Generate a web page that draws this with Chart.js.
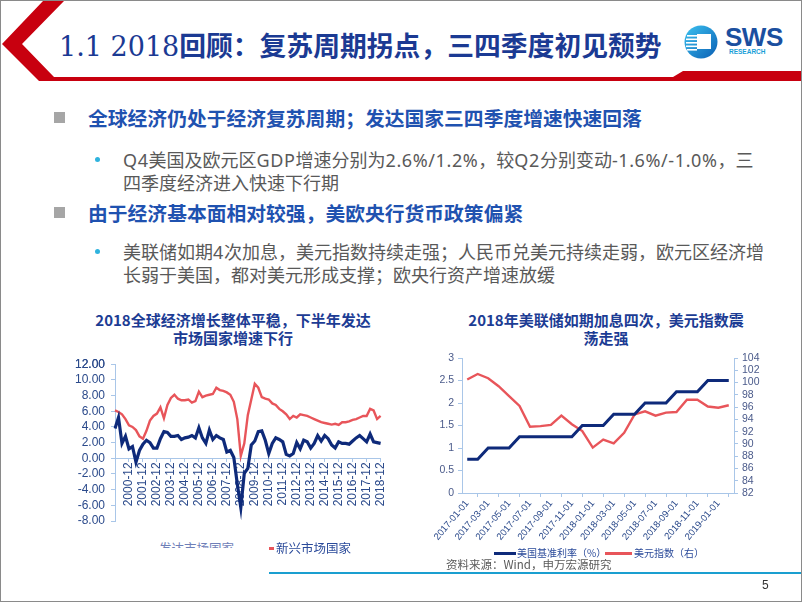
<!DOCTYPE html>
<html>
<head>
<meta charset="utf-8">
<script src="https://cdn.jsdelivr.net/npm/chart.js@4.4.1/dist/chart.umd.min.js"></script>
<style>
  body { margin: 0; width: 802px; height: 602px; overflow: hidden; background: #fff; font-family: "Noto Sans CJK SC", sans-serif; }
  #slide { position: absolute; left: 0; top: 0; width: 800px; height: 600px; border: 1px solid #8a8a8a; overflow: hidden; background: #fff; }
  .abs { position: absolute; white-space: nowrap; }
  .title { left: 58px; top: 26px; font-size: 26.8px; line-height: 36px; font-weight: 700; color: #1b3a93; }
  .title .num { font-family: "DejaVu Serif", serif; font-weight: 400; font-size: 27px; }
  .h1 { left: 87px; font-size: 19.8px; line-height: 26px; font-weight: 700; color: #1f52b0; }
  .sq { left: 53px; width: 11px; height: 11px; background: #a6a6a6; }
  .dot { left: 94px; width: 5px; height: 5px; border-radius: 50%; background: #2fb3de; }
  .sub { left: 122px; font-size: 18px; line-height: 22px; color: #595959; }
  .sub i { font-style: normal; font-family: "Noto Sans", sans-serif; letter-spacing: 0.6px; }
  .ctitle { font-size: 15px; line-height: 18px; font-weight: 700; color: #1c3c94; text-align: center; width: 360px; }
  .leg { font-size: 12.5px; line-height: 14px; color: #2a4a9a; }
  .leg2 { font-size: 10px; line-height: 12px; color: #2a4a9a; }
  canvas { position: absolute; }
</style>
</head>
<body>
<div id="slide">
  <svg class="abs" style="left:0;top:0" width="802" height="90">
    <polygon points="42,0 63,0 21,43 53,76 672,76 682,70 802,70 802,80 38,80 1,43" fill="#c8000f"/>
  </svg>
  <div class="abs title"><span class="num">1.1 2018</span>回顾：复苏周期拐点，三四季度初见颓势</div>

  <svg class="abs" style="left:683px;top:24px" width="36" height="36" viewBox="0 0 36 36">
    <defs>
      <linearGradient id="lg" x1="0" y1="0" x2="1" y2="1">
        <stop offset="0" stop-color="#3cc2f0"/>
        <stop offset="1" stop-color="#0a5fb4"/>
      </linearGradient>
    </defs>
    <circle cx="17" cy="17" r="16.5" fill="url(#lg)"/>
    <rect x="13" y="9" width="14" height="15" fill="#fff"/>
    <rect x="3" y="10" width="10" height="1.6" fill="#fff"/>
    <rect x="2" y="13.5" width="11" height="1.6" fill="#fff"/>
    <rect x="2" y="17" width="11" height="1.6" fill="#fff"/>
    <rect x="2" y="20.5" width="11" height="1.6" fill="#fff"/>
    <rect x="3" y="24" width="10" height="1.6" fill="#fff"/>
  </svg>
  <div class="abs" style="left:724px;top:23px;font-family:'Liberation Sans',sans-serif;font-weight:700;font-size:26px;line-height:26px;color:#1b4f9f;letter-spacing:-0.5px">SWS</div>
  <div class="abs" style="left:728px;top:47px;font-family:'Liberation Sans',sans-serif;font-weight:700;font-size:6.5px;line-height:7px;color:#1a9fd8">RESEARCH</div>

  <div class="abs sq" style="top:111px"></div>
  <div class="abs h1" style="top:104px">全球经济仍处于经济复苏周期；发达国家三四季度增速快速回落</div>
  <div class="abs dot" style="top:156px"></div>
  <div class="abs sub" style="top:147px"><i>Q4</i>美国及欧元区<i>GDP</i>增速分别为<i>2.6%/1.2%</i>，较<i>Q2</i>分别变动<i>-1.6%/-1.0%</i>，三<br>四季度经济进入快速下行期</div>

  <div class="abs sq" style="top:206px"></div>
  <div class="abs h1" style="top:199px">由于经济基本面相对较强，美欧央行货币政策偏紧</div>
  <div class="abs dot" style="top:248px"></div>
  <div class="abs sub" style="top:239px">美联储如期<i>4</i>次加息，美元指数持续走强；人民币兑美元持续走弱，欧元区经济增<br>长弱于美国，都对美元形成支撑；欧央行资产增速放缓</div>

  <div class="abs ctitle" style="left:52px;top:310px">2018全球经济增长整体平稳，下半年发达<br>市场国家增速下行</div>
  <div class="abs ctitle" style="left:425px;top:310px">2018年美联储如期加息四次，美元指数震<br>荡走强</div>

  <canvas id="gdp" width="340" height="190" style="left:55px;top:350px"></canvas>
  <canvas id="fed" width="392" height="200" style="left:400px;top:345px"></canvas>

  <div class="abs leg" style="left:158px;top:540px;height:7px;overflow:hidden;color:#6f80b8">发达市场国家</div>
  <div class="abs" style="left:268px;top:546px;width:5px;height:3px;background:#e8555a"></div>
  <div class="abs leg" style="left:275px;top:540px">新兴市场国家</div>

  <div class="abs" style="left:493px;top:551px;width:22px;height:2.5px;background:#0e2a7a"></div>
  <div class="abs leg2" style="left:516px;top:546px">美国基准利率（%）</div>
  <div class="abs" style="left:604px;top:551px;width:27px;height:2.5px;background:#e8555a"></div>
  <div class="abs leg2" style="left:633px;top:546px">美元指数（右）</div>

  <div class="abs" style="left:445px;top:556px;font-size:11.5px;line-height:14px;color:#595959">资料来源：Wind，申万宏源研究</div>
  <div class="abs" style="left:268px;top:571px;width:534px;height:2px;background:#1a9fd0"></div>
  <div class="abs" style="left:761px;top:577px;font-family:'Liberation Sans',sans-serif;font-size:12px;line-height:14px;color:#333">5</div>
</div>

<script>
// 季度 GDP 增速，1999-12 至 2018-12
const quarters = [];
for (let y = 1999; y <= 2018; y++) {
  for (const m of ["03", "06", "09", "12"]) {
    if (y === 1999 && m !== "12") continue;
    quarters.push(y + "-" + m);
  }
}

const developed = [
  3.8, 5.2, 1.9, 2.8, 1.2, 1.5, -0.5, 1.0, 1.8, 2.3, 2.0, 1.3, 1.3, 2.5, 3.4, 3.3,
  2.8, 2.8, 2.9, 2.4, 2.6, 2.7, 2.9, 2.6, 3.9, 2.6, 1.9, 3.6, 2.4, 2.9, 2.6, 2.4,
  0.8, 1.0, 0.1, -3.3, -6.3, -1.9, -1.3, 1.7, 2.2, 3.4, 3.5, 2.3, 0.6, 1.9, 2.6, 2.4,
  2.1, 0.5, 0.3, 0.6, 2.0, 1.2, 2.3, 2.1, 1.3, 1.9, 2.9, 2.2, 2.9, 2.5, 1.7, 1.3,
  2.1, 1.9, 1.9, 1.8, 2.2, 2.6, 2.9, 2.5, 2.1, 3.1, 2.1, 2.0, 1.9
];
const emerging = [
  6.1, 5.9, 5.6, 5.0, 4.2, 4.0, 3.6, 2.8, 2.5, 3.5, 4.8, 5.4, 5.7, 6.5, 5.1, 6.8,
  7.7, 8.1, 7.6, 7.4, 7.4, 7.5, 7.1, 7.3, 8.5, 7.8, 8.0, 8.1, 8.2, 9.0, 8.7, 8.6,
  8.4, 8.1, 7.2, 5.0, 0.3, 1.9, 5.5, 7.5, 9.5, 9.0, 7.8, 7.6, 7.5, 7.0, 6.8, 6.3,
  6.0, 5.6, 5.0, 5.4, 5.2, 5.6, 5.5, 5.4, 5.2, 5.0, 4.8, 4.6, 4.5, 4.4, 4.3, 4.4,
  4.25, 4.6, 4.6, 4.7, 4.9, 5.0, 5.2, 5.4, 5.4, 6.3, 6.1, 5.0, 5.4
];
const gdpTicks = [-8, -6, -4, -2, 0, 2, 4, 6, 8, 10, 12];

// 月度：美国基准利率与美元指数
const months = [
  "2017-01-01", "2017-02-01", "2017-03-01", "2017-04-01", "2017-05-01", "2017-06-01",
  "2017-07-01", "2017-08-01", "2017-09-01", "2017-10-01", "2017-11-01", "2017-12-01",
  "2018-01-01", "2018-02-01", "2018-03-01", "2018-04-01", "2018-05-01", "2018-06-01",
  "2018-07-01", "2018-08-01", "2018-09-01", "2018-10-01", "2018-11-01", "2018-12-01",
  "2019-01-01", "2019-02-01"
];
const fedRate = [
  0.75, 0.75, 1, 1, 1, 1.25, 1.25, 1.25, 1.25, 1.25, 1.25, 1.5, 1.5,
  1.5, 1.75, 1.75, 1.75, 2, 2, 2, 2.25, 2.25, 2.25, 2.5, 2.5, 2.5
];
const dollarIndex = [
  100.5, 101.4, 100.7, 99.4, 97.8, 96.2, 92.8, 92.9, 93.1, 94.6, 93.2, 92.1, 89.4,
  90.7, 90.1, 91.8, 94.8, 95.3, 94.6, 95.1, 95.2, 97.2, 97.2, 96.1, 95.9, 96.3
];
const rateTicks = [0, 0.5, 1, 1.5, 2, 2.5, 3];
const dollarTicks = [82, 84, 86, 88, 90, 92, 94, 96, 98, 100, 102, 104];

const axisColor = "#a9c6e8";
const tickColor = "#2b4a8b";
const blue = "#0e2a7a";
const red = "#e8555a";

const setTicks = (list) => (s) => { s.ticks = list.map((v) => ({ value: v })); };

// 顶部刻度标签有时没画出来，这里补一次
const topLabel = {
  id: "topLabel",
  afterDraw(chart) {
    const s = chart.scales.y;
    const v = gdpTicks[gdpTicks.length - 1];
    const ctx = chart.ctx;
    ctx.save();
    ctx.font = "12px 'Liberation Sans'";
    ctx.fillStyle = tickColor;
    ctx.textAlign = "right";
    ctx.textBaseline = "middle";
    ctx.fillText(v.toFixed(2), s.right - 10, s.getPixelForValue(v));
    ctx.restore();
  }
};

new Chart(document.getElementById("gdp"), {
  type: "line",
  data: {
    labels: quarters,
    datasets: [
      { label: "发达市场国家", data: developed, borderColor: blue, borderWidth: 3.2, pointRadius: 0, tension: 0 },
      { label: "新兴市场国家", data: emerging, borderColor: red, borderWidth: 2.4, pointRadius: 0, tension: 0 }
    ]
  },
  plugins: [topLabel],
  options: {
    responsive: false,
    animation: false,
    layout: { padding: { top: 10, right: 10, bottom: 20, left: 0 } },
    plugins: { legend: { display: false }, tooltip: { enabled: false } },
    scales: {
      x: {
        position: { y: 0 },
        afterFit: (s) => { s.height = 0; },
        grid: { drawOnChartArea: false, color: axisColor, tickLength: 3 },
        border: { color: axisColor },
        ticks: {
          autoSkip: false, minRotation: 90, maxRotation: 90, padding: 1,
          color: tickColor, font: { family: "Liberation Sans", size: 12 },
          callback: function (v, i) { return quarters[i].endsWith("-12") && i > 0 ? quarters[i] : null; }
        }
      },
      y: {
        min: -8, max: 12,
        afterBuildTicks: setTicks(gdpTicks),
        afterFit: (s) => { s.width = 59; },
        grid: { drawOnChartArea: false, color: axisColor, tickLength: 4 },
        border: { color: axisColor },
        ticks: {
          autoSkip: false, padding: 6, color: tickColor, font: { family: "Liberation Sans", size: 12 },
          callback: (v) => v.toFixed(2)
        }
      }
    }
  }
});

new Chart(document.getElementById("fed"), {
  type: "line",
  data: {
    labels: months,
    datasets: [
      { label: "美国基准利率（%）", data: fedRate, yAxisID: "y", borderColor: blue, borderWidth: 3, pointRadius: 0, tension: 0 },
      { label: "美元指数（右）", data: dollarIndex, yAxisID: "y1", borderColor: red, borderWidth: 2.4, pointRadius: 0, tension: 0 }
    ]
  },
  options: {
    responsive: false,
    animation: false,
    layout: { padding: { top: 12 } },
    plugins: { legend: { display: false }, tooltip: { enabled: false } },
    scales: {
      x: {
        offset: true,
        afterFit: (s) => { s.height = 53; },
        grid: { drawOnChartArea: false, offset: true, color: axisColor, tickLength: 4 },
        border: { color: axisColor },
        ticks: {
          autoSkip: false, minRotation: 50, maxRotation: 50, padding: 1,
          color: tickColor, font: { family: "Liberation Sans", size: 9.5 },
          callback: (v, i) => (i % 2 === 0 ? months[i] : null)
        }
      },
      y: {
        position: "left", min: 0, max: 3,
        afterBuildTicks: setTicks(rateTicks),
        afterFit: (s) => { s.width = 61; },
        grid: { drawOnChartArea: false, color: axisColor, tickLength: 4 },
        border: { color: axisColor },
        ticks: {
          autoSkip: false, padding: 4, color: "#4a5a8a", font: { family: "Liberation Sans", size: 10.5 },
          callback: (v) => String(v)
        }
      },
      y1: {
        position: "right", min: 82, max: 104,
        afterBuildTicks: setTicks(dollarTicks),
        afterFit: (s) => { s.width = 59; },
        grid: { drawOnChartArea: false, color: axisColor, tickLength: 4 },
        border: { color: axisColor },
        ticks: {
          autoSkip: false, padding: 4, color: "#4a5a8a", font: { family: "Liberation Sans", size: 10.5 },
          callback: (v) => String(v)
        }
      }
    }
  }
});
</script>
</body>
</html>
